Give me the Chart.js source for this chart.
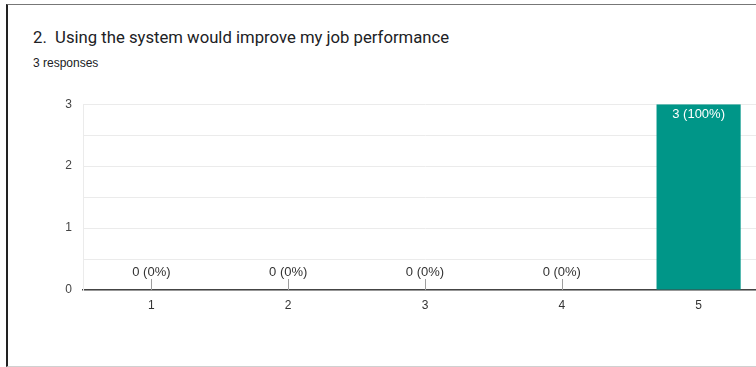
<!DOCTYPE html>
<html>
<head>
<meta charset="utf-8">
<script src="https://cdn.jsdelivr.net/npm/chart.js@4/dist/chart.umd.min.js"></script>
<style>
  html, body { margin: 0; padding: 0; background: #fff; overflow: hidden; }
  body { width: 756px; height: 367px; position: relative; }
  .card {
    position: absolute; left: 6px; top: 4px; width: 800px; height: 361px;
    border-left: 2px solid #222; border-top: 1px solid #777; border-bottom: 1px solid #d0d0d0;
  }
  .title {
    position: absolute; left: 33px; top: 28px; margin: 0;
    font: 16.7px Roboto, Arial, sans-serif; color: #202124; white-space: pre;
  }
  .sub {
    position: absolute; left: 33px; top: 56px;
    font: 12px "Liberation Sans", Arial, sans-serif; color: #202124;
  }
  .wrap { position: absolute; left: 40px; top: 86px; width: 760px; height: 238px; }
</style>
</head>
<body>
<div class="card"></div>
<div class="title">2.  Using the system would improve my job performance</div>
<div class="sub">3 responses</div>
<div class="wrap"><canvas id="chart"></canvas></div>
<script>
  const categories = ['1', '2', '3', '4', '5'];
  const counts = [0, 0, 0, 0, 3];
  const totalResponses = 3;
  const yTicks = [0, 1, 2, 3];

  const FONT = '"Liberation Sans", Arial, sans-serif';

  // value labels, plus the small stub drawn where a bar is empty
  const barLabels = {
    id: 'barLabels',
    afterDatasetsDraw(chart) {
      const ctx = chart.ctx;
      const meta = chart.getDatasetMeta(0);
      const y = chart.scales.y;
      ctx.save();
      ctx.font = '13px ' + FONT;
      ctx.textAlign = 'center';
      ctx.textBaseline = 'middle';
      meta.data.forEach((bar, i) => {
        const v = counts[i];
        const pct = Math.round(v / totalResponses * 100);
        const txt = v + ' (' + pct + '%)';
        if (v > 0) {
          ctx.fillStyle = '#ffffff';
          ctx.fillText(txt, bar.x, bar.y + 10);
        } else {
          const base = y.getPixelForValue(0);
          ctx.strokeStyle = '#9e9e9e';
          ctx.lineWidth = 1;
          ctx.beginPath();
          ctx.moveTo(Math.round(bar.x) + 0.5, base);
          ctx.lineTo(Math.round(bar.x) + 0.5, base - 11);
          ctx.stroke();
          ctx.fillStyle = '#333333';
          ctx.fillText(txt, bar.x, base - 18);
        }
      });
      ctx.restore();
    }
  };

  new Chart(document.getElementById('chart'), {
    type: 'bar',
    data: {
      labels: categories,
      datasets: [{
        data: counts,
        backgroundColor: '#009688',
        categoryPercentage: 1,
        barPercentage: 0.615
      }]
    },
    options: {
      responsive: true,
      maintainAspectRatio: false,
      animation: false,
      layout: { padding: { top: 3, right: 33, bottom: 0, left: 0 } },
      plugins: { legend: { display: false }, tooltip: { enabled: false } },
      scales: {
        x: {
          grid: { display: false, drawTicks: false },
          border: { display: true, color: '#444', width: 1.5 },
          ticks: { color: '#333', padding: 8, font: { family: FONT, size: 12 } },
          afterFit(s) { s.height = 34; }
        },
        y: {
          min: 0,
          max: 3,
          grid: { color: '#ebebeb', drawTicks: false },
          border: { display: true, color: '#ebebeb' },
          ticks: {
            stepSize: 0.5,
            color: '#444',
            padding: 11,
            font: { family: FONT, size: 12 },
            callback: v => yTicks.includes(v) ? v : ''
          },
          afterFit(s) { s.width = 43; }
        }
      }
    },
    plugins: [barLabels]
  });
</script>
</body>
</html>
